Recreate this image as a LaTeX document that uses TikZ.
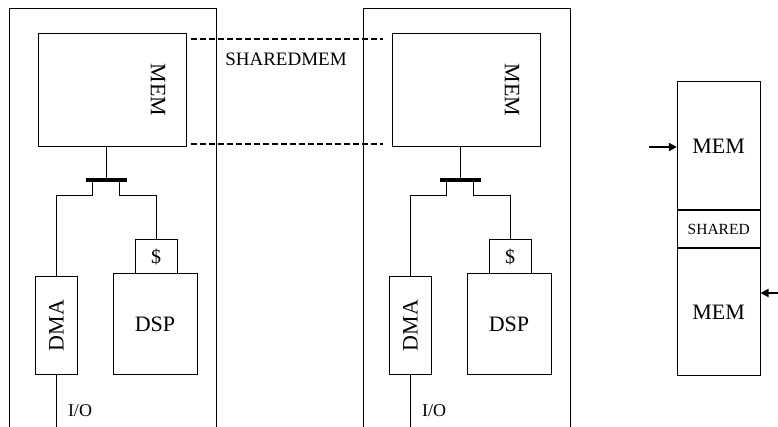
\documentclass[tikz,border=0pt]{standalone}
\usepackage{fontspec}
\setmainfont{Liberation Serif}
\usetikzlibrary{arrows.meta,positioning}

\begin{document}
\begin{tikzpicture}[
  x=1pt,y=-1pt,
  box/.style={draw, line width=1pt, inner sep=0pt},
  big/.style={font=\fontsize{22}{26}\selectfont},
  wire/.style={line width=1pt},
  bus/.style={fill=black, inner sep=0pt, minimum width=41pt, minimum height=3.5pt},
  shm/.style={line width=2pt, dash pattern=on 6pt off 3pt},
  arr/.style={-{Triangle[length=8pt,width=8pt]}, line width=2pt}
]
\useasboundingbox (0,0) rectangle (778,427);
% two processing nodes, side by side
\foreach \s/\dx in {a/0,b/354}{
  \node[box, minimum width=206.5pt, minimum height=431.5pt] (node\s) at (112.75+\dx,224.25) {};
  \node[box, minimum width=148pt, minimum height=113pt] (mem\s) at (112.5+\dx,90.5) {};
  \node[big, rotate=-90] (memlbl\s) at (158+\dx,90) {MEM};
  \node[bus] (bus\s) at (106.5+\dx,180) {};
  \node[box, minimum width=42.5pt, minimum height=97pt] (dma\s) at (56.5+\dx,325.5) {};
  \node[big, rotate=90] (dmalbl\s) at (dma\s) {DMA};
  \node[box, minimum width=42pt, minimum height=34pt, font=\fontsize{20}{24}\selectfont] (cache\s) at (156+\dx,257) {\$};
  \node[box, big, minimum width=84pt, minimum height=100pt] (dsp\s) at (155+\dx,324) {DSP};
  \coordinate (io\s) at (56.5+\dx,440);
  \node[font=\fontsize{18}{20}\selectfont] (iolbl\s) at (80+\dx,411) {I/O};
  \draw[wire] (bus\s) -- (bus\s |- mem\s.south);
  \draw[wire] ([xshift=-14.5pt]bus\s.center) -- ++(0,16) -| (dma\s.north);
  \draw[wire] ([xshift=12.5pt]bus\s.center) -- ++(0,16) -| (cache\s.north);
  \draw[wire] (dma\s.south) -- (io\s);
}
% shared memory window
\draw[shm] ([xshift=3.5pt,yshift=-6pt]mema.north east) -- ([xshift=-9pt,yshift=-6pt]memb.north west);
\draw[shm] ([xshift=3.5pt,yshift=3pt]mema.south east) -- ([xshift=-9pt,yshift=3pt]memb.south west);
\node[font=\fontsize{19}{22}\selectfont] (shmlbl) at (286,59) {SHAREDMEM};
% memory map
\node[box, big, minimum width=82.7pt, minimum height=128.3pt] (memup) at (718.7,145.8) {MEM};
\node[box, font=\fontsize{15.5}{18}\selectfont, minimum width=82.7pt, minimum height=36.7pt, below=0pt of memup] (shared) {SHARED};
\node[box, big, minimum width=82.7pt, minimum height=127.3pt, below=0pt of shared] (memdn) {MEM};
\coordinate (inup) at (649,147);
\coordinate (indn) at (790,293);
\draw[arr] (inup) -- (inup -| memup.west);
\draw[arr] (indn) -- (indn -| memdn.east);
\end{tikzpicture}
\end{document}
